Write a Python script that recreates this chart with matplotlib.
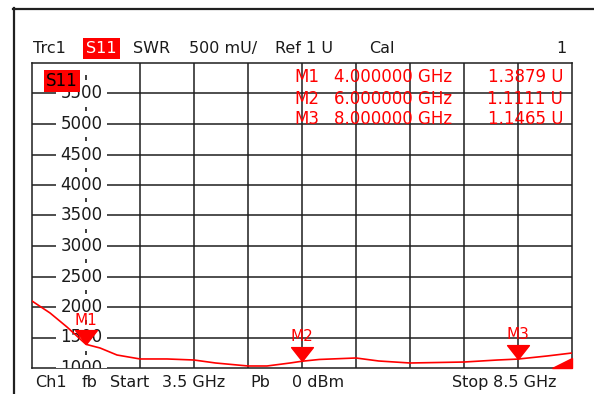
import numpy as np
import matplotlib.pyplot as plt
from matplotlib.path import Path
from matplotlib.lines import Line2D

# S11 SWR trace (frequency GHz, value mU)
freq = [3.5, 3.667, 3.824, 4.0, 4.13, 4.287, 4.5, 4.75, 5.0, 5.2, 5.5, 5.676,
        5.89, 6.0, 6.16, 6.5, 6.71, 7.0, 7.5, 7.81, 8.0, 8.27, 8.5]
swr = [2098, 1902, 1672, 1388, 1328, 1213, 1148, 1148, 1131, 1082, 1033, 1033,
       1082, 1111, 1140, 1164, 1115, 1082, 1098, 1131, 1146.5, 1197, 1246]

mk_names = ["M1", "M2", "M3"]
mk_freq = [4.0, 6.0, 8.0]
mk_val = [1387.9, 1111.1, 1146.5]
mk_freq_txt = ["4.000000 GHz", "6.000000 GHz", "8.000000 GHz"]
mk_val_txt = ["1.3879 U", "1.1111 U", "1.1465 U"]

ytick_vals = list(range(1000, 6000, 500))

W, H = 594, 394
RED = "#ff0000"
GRID = "#1e1e1e"
FONT = "DejaVu Sans"


def fx(x):
    return x / W


def fy(y):
    return 1 - y / H


fig = plt.figure(figsize=(W / 100, H / 100), dpi=100)
fig.patch.set_facecolor("white")

# outer frame
fig.add_artist(Line2D([fx(13), 1.0], [fy(8.7), fy(8.7)], color="#202020", lw=1.6))
fig.add_artist(Line2D([fx(14.2), fx(14.2)], [fy(8), 0.0], color="#202020", lw=1.6))

ax = fig.add_axes([fx(32), 1 - 368 / H, 540 / W, 305 / H])
ax.set_xlim(3.5, 8.5)
ax.set_ylim(1000, 6000)
ax.set_xticks(np.arange(4.5, 8.01, 0.5))
ax.set_yticks(np.arange(1500, 5501, 500))
ax.tick_params(length=0, labelbottom=False, labelleft=False)
ax.grid(color=GRID, lw=1.1, zorder=1)
ax.set_axisbelow(True)
for s in ax.spines.values():
    s.set_color(GRID)
    s.set_linewidth(1.1)

# reference axis dashes at 4 GHz
mids = np.arange(1250, 6000, 500)
ax.vlines([4.0] * len(mids), mids - 55, mids + 55, color=GRID, lw=1.2, zorder=2)

# y labels on the reference axis
lab_f = 3.5 + (81.5 - 32) / 108
for v in ytick_vals:
    ax.text(lab_f, v, str(v), ha="center", va="center", fontsize=12,
            family=FONT, color="#1a1a1a", zorder=3, clip_on=True,
            bbox=dict(fc="white", ec="none", pad=0.8, boxstyle="square,pad=0.25"))

# trace
ax.plot(freq, swr, color=RED, lw=1.2, zorder=4)

# marker triangles with tip at the point
tri = Path([(-1, 1.27), (1, 1.27), (0, 0), (-1, 1.27)],
           [Path.MOVETO, Path.LINETO, Path.LINETO, Path.CLOSEPOLY])
for n, f, v in zip(mk_names, mk_freq, mk_val):
    ax.plot([f], [v], marker=tri, ms=20, color=RED, ls="none", zorder=5, clip_on=False)
    ax.annotate(n, (f, v), xytext=(0, 17.5), textcoords="offset points",
                ha="center", va="center", fontsize=11, family=FONT,
                color=RED, zorder=5)

# off-screen indicator at bottom right
ax.fill([1 - 20 / 540, 1, 1], [0, 0, 10 / 305], color=RED,
        transform=ax.transAxes, zorder=5, clip_on=False)

# S11 box inside the grid
fig.text(fx(46), fy(81), "S11", ha="left", va="center", fontsize=12,
         family=FONT, color="black", zorder=6,
         bbox=dict(fc=RED, ec="none", boxstyle="square,pad=0.12"))

# marker readout
for i in range(3):
    yy = fy(77.5 + 21 * i)
    fig.text(fx(294), yy, mk_names[i], ha="left", va="center", fontsize=12,
             family=FONT, color=RED, zorder=6)
    fig.text(fx(334), yy, mk_freq_txt[i], ha="left", va="center", fontsize=12,
             family=FONT, color=RED, zorder=6)
    fig.text(fx(563), yy, mk_val_txt[i], ha="right", va="center", fontsize=12,
             family=FONT, color=RED, zorder=6)

# header
hy = fy(48.5)
fig.text(fx(33), hy, "Trc1", ha="left", va="center", fontsize=11.5, family=FONT, color="#1a1a1a")
fig.text(fx(86), hy, "S11", ha="left", va="center", fontsize=11.5, family=FONT, color="white",
         bbox=dict(fc=RED, ec="none", boxstyle="square,pad=0.2"))
fig.text(fx(133), hy, "SWR", ha="left", va="center", fontsize=11.5, family=FONT, color="#1a1a1a")
fig.text(fx(189), hy, "500 mU/", ha="left", va="center", fontsize=11.5, family=FONT, color="#1a1a1a")
fig.text(fx(275), hy, "Ref 1 U", ha="left", va="center", fontsize=11.5, family=FONT, color="#1a1a1a")
fig.text(fx(369), hy, "Cal", ha="left", va="center", fontsize=11.5, family=FONT, color="#1a1a1a")
fig.text(fx(567), hy, "1", ha="right", va="center", fontsize=11.5, family=FONT, color="#1a1a1a")

# footer
by = fy(382.5)
for x, s in [(35, "Ch1"), (82, "fb"), (110, "Start"), (162, "3.5 GHz"),
             (250, "Pb"), (292, "0 dBm"), (452, "Stop"), (493, "8.5 GHz")]:
    fig.text(fx(x), by, s, ha="left", va="center", fontsize=11.5, family=FONT, color="#1a1a1a")

fig.savefig("out.png", dpi=100)
